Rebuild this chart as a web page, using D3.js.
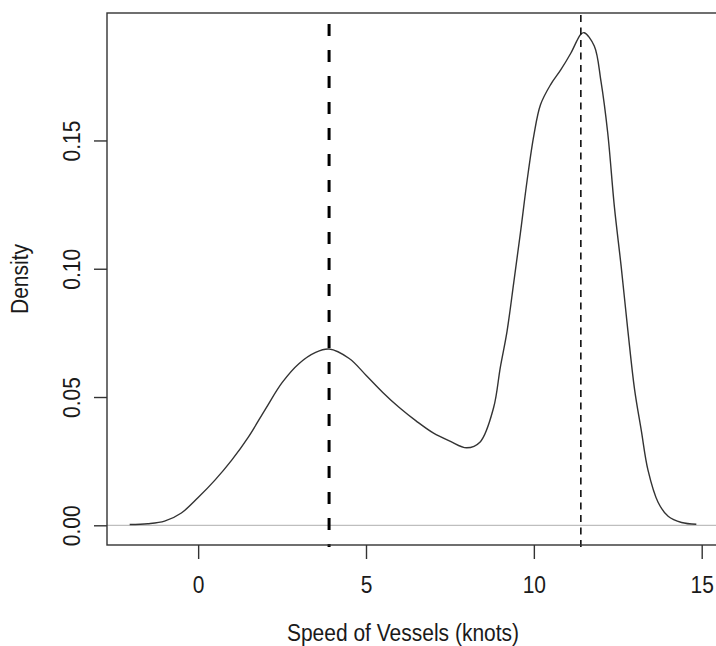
<!DOCTYPE html>
<html>
<head>
<meta charset="utf-8">
<script src="https://cdn.jsdelivr.net/npm/d3@7"></script>
<style>
  body { margin: 0; background: #fff; }
  svg text { font-family: "Liberation Sans", Arial, sans-serif; fill: #1a1a1a; }
</style>
</head>
<body>
<div id="graph"></div>
<script>
// density estimate of vessel speed
const speed = [-2.04, -1.5, -1.0, -0.5, 0, 0.5, 1.0, 1.5, 2.0, 2.5, 3.0, 3.5, 3.9, 4.5, 5.0, 5.5, 6.0, 6.5, 7.0, 7.5, 8.0, 8.4, 8.8, 9.0, 9.2, 9.4, 9.6, 9.8, 10.0, 10.2, 10.5, 10.8, 11.1, 11.4, 11.5, 11.8, 12.0, 12.2, 12.4, 12.6, 12.8, 13.0, 13.2, 13.4, 13.7, 14.0, 14.4, 14.84];
const density = [0.0003, 0.0006, 0.0016, 0.0048, 0.0108, 0.0176, 0.0254, 0.0345, 0.0452, 0.0556, 0.063, 0.0674, 0.0687, 0.065, 0.0585, 0.0518, 0.0458, 0.0406, 0.036, 0.0328, 0.0302, 0.0325, 0.0458, 0.0615, 0.0755, 0.0945, 0.114, 0.1345, 0.152, 0.164, 0.1718, 0.1775, 0.184, 0.1914, 0.192, 0.1868, 0.173, 0.153, 0.124, 0.101, 0.076, 0.053, 0.037, 0.0215, 0.009, 0.0035, 0.0011, 0.0004];
const vlines = [3.9, 11.4]; // thick dashed, thin dashed
const xTicks = [0, 5, 10, 15];
const yTicks = [0, 0.05, 0.1, 0.15];
const xLabel = "Speed of Vessels (knots)";
const yLabel = "Density";

const w = 716;
const h = 646;
const plot = { left: 107, right: 719, top: 13, bottom: 545 };
const fs = 21;
const stretch = "scale(1,1.12)"; // glyphs in the original are a bit taller

const svg = d3.select("#graph").append("svg").attr("width", w).attr("height", h);

const xScale = d3.scaleLinear().domain([-2.7152, 15.5152]).range([plot.left, plot.right]);
const yScale = d3.scaleLinear().domain([-0.00768, 0.19968]).range([plot.bottom, plot.top]);

// zero line
svg.append("line")
  .attr("x1", plot.left).attr("x2", plot.right)
  .attr("y1", yScale(0)).attr("y2", yScale(0))
  .attr("stroke", "#bebebe").attr("stroke-width", 1.2);

// density curve
const pts = speed.map((s, i) => [s, density[i]]);
svg.append("path")
  .datum(pts)
  .attr("fill", "none")
  .attr("stroke", "#333")
  .attr("stroke-width", 1.4)
  .attr("d", d3.line().x((d) => xScale(d[0])).y((d) => yScale(d[1])).curve(d3.curveCatmullRom.alpha(0.5)));

// vertical reference lines
svg.append("line")
  .attr("x1", xScale(vlines[0])).attr("x2", xScale(vlines[0]))
  .attr("y1", plot.top).attr("y2", plot.bottom + 2)
  .attr("stroke", "#000").attr("stroke-width", 3)
  .attr("stroke-dasharray", "12,14").attr("stroke-dashoffset", 15);
svg.append("line")
  .attr("x1", xScale(vlines[1])).attr("x2", xScale(vlines[1]))
  .attr("y1", plot.top + 2).attr("y2", plot.bottom + 2)
  .attr("stroke", "#000").attr("stroke-width", 1.5)
  .attr("stroke-dasharray", "7,5.5");

// box
svg.append("rect")
  .attr("x", plot.left).attr("y", plot.top)
  .attr("width", plot.right - plot.left).attr("height", plot.bottom - plot.top)
  .attr("fill", "none").attr("stroke", "#333").attr("stroke-width", 1.4);

// x axis
const xAxis = svg.append("g")
  .attr("transform", `translate(0,${plot.bottom})`)
  .call(d3.axisBottom(xScale).tickValues(xTicks).tickSize(14).tickFormat(d3.format("d")));
xAxis.select(".domain").remove();
xAxis.selectAll("line").attr("stroke", "#333").attr("stroke-width", 1.4);
xAxis.selectAll("text")
  .attr("y", null).attr("dy", null)
  .attr("transform", `translate(0,48) ${stretch}`)
  .style("font-size", fs + "px").attr("fill", "#1a1a1a");

// y axis
const yAxis = svg.append("g")
  .attr("transform", `translate(${plot.left},0)`)
  .call(d3.axisLeft(yScale).tickValues(yTicks).tickSize(13).tickFormat(d3.format(".2f")));
yAxis.select(".domain").remove();
yAxis.selectAll("line").attr("stroke", "#333").attr("stroke-width", 1.4);
yAxis.selectAll("text")
  .attr("x", null).attr("dy", null)
  .attr("text-anchor", "middle")
  .attr("transform", `translate(-27,0) rotate(-90) ${stretch}`)
  .style("font-size", fs + "px").attr("fill", "#1a1a1a");

// axis titles
svg.append("text")
  .attr("transform", `translate(${(plot.left + plot.right) / 2 - 10},641) ${stretch}`)
  .attr("text-anchor", "middle")
  .style("font-size", fs + "px")
  .text(xLabel);
svg.append("text")
  .attr("transform", `translate(28,${(plot.top + plot.bottom) / 2}) rotate(-90) ${stretch}`)
  .attr("text-anchor", "middle")
  .style("font-size", fs + "px")
  .text(yLabel);
</script>
</body>
</html>
